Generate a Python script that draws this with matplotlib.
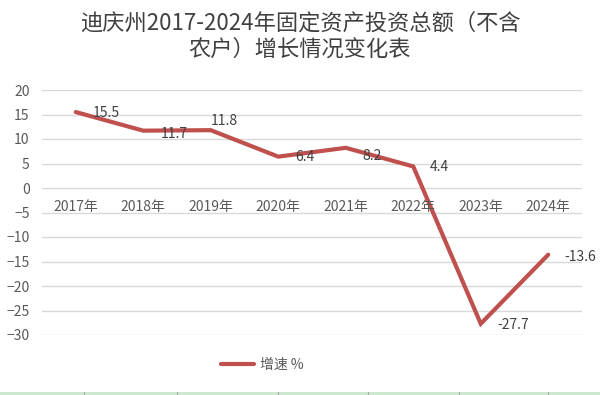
import matplotlib.pyplot as plt
from matplotlib.patches import Rectangle
from matplotlib.lines import Line2D

plt.rcParams['font.family'] = ['Noto Sans CJK SC', 'DejaVu Sans']

years = ['2017年', '2018年', '2019年', '2020年', '2021年', '2022年', '2023年', '2024年']
growth = [15.5, 11.7, 11.8, 6.4, 8.2, 4.4, -27.7, -13.6]
label_offsets = [(17, -1), (17, -3), (0, 9), (17, 0), (17, -8), (17, -1), (17, -1), (16, -2)]
title = '迪庆州2017-2024年固定资产投资总额（不含\n农户）增长情况变化表'

text_color = '#595959'
line_color = '#C0504D'

fig = plt.figure(figsize=(6.0, 3.95), dpi=100)
ax = fig.add_axes([42 / 600, 1 - 335 / 395, 540 / 600, 245 / 395])

x = list(range(len(years)))
ax.plot(x, growth, color=line_color, linewidth=3.0, solid_capstyle='round',
        solid_joinstyle='miter', zorder=3)

ax.set_xlim(-0.5, len(years) - 0.5)
ax.set_ylim(-30, 20)
ax.set_yticks(range(-30, 21, 5))
ax.set_xticks([])
ax.grid(axis='y', color='#D9D9D9', linewidth=1)
ax.set_axisbelow(True)
for s in ax.spines.values():
    s.set_visible(False)
ax.tick_params(axis='y', length=0, labelsize=10, labelcolor=text_color, pad=9)

# category labels sit under the zero line
for i, yr in enumerate(years):
    ax.annotate(yr, (i, 0), xytext=(0, -19), textcoords='offset pixels',
                ha='center', va='center', fontsize=10, color=text_color)

# data labels
for i, v in enumerate(growth):
    dx, dy = label_offsets[i]
    ax.annotate(f'{v:g}', (i, v), xytext=(dx, dy), textcoords='offset pixels',
                ha='left', va='center', fontsize=10, color='#404040')

fig.text(0.5, 1 - 36 / 395, title, ha='center', va='center', fontsize=16,
         color='#404040', linespacing=1.2)

handle = Line2D([], [], color=line_color, linewidth=3.0, solid_capstyle='round')
fig.legend([handle], ['增速 %'], loc='center', bbox_to_anchor=(262 / 600, 1 - 365 / 395),
           frameon=False, fontsize=10, handlelength=2.4, handletextpad=0.4,
           labelcolor=text_color)

# strip of the sheet below the chart
fig.patches.append(Rectangle((0, 0), 1, 3 / 395, transform=fig.transFigure,
                             facecolor='#CCE8CF', edgecolor='none'))
for sx in [84, 177, 278, 368, 459, 548]:
    fig.lines.append(Line2D([sx / 600, sx / 600], [0, 3 / 395], transform=fig.transFigure,
                            color='#AAAAAA', linewidth=0.8))

fig.savefig('out.png', dpi=100)
